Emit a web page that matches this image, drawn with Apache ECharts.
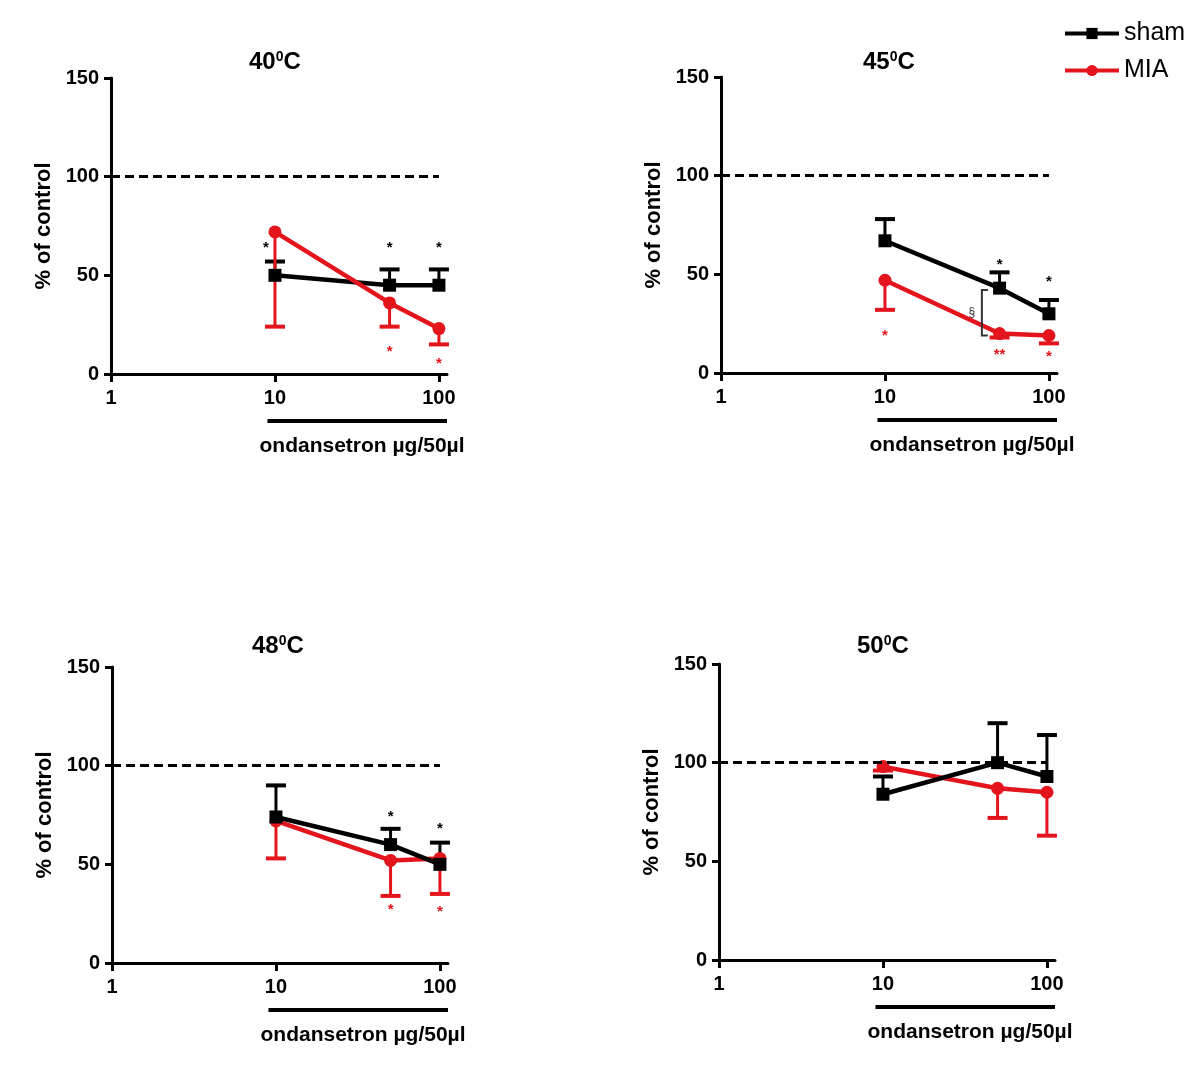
<!DOCTYPE html>
<html><head><meta charset="utf-8">
<script src="https://cdn.jsdelivr.net/npm/echarts@6/dist/echarts.min.js"></script>
<style>html,body{margin:0;padding:0;background:#fff}#c{width:1200px;height:1080px}</style>
</head><body><div id="c"></div>
<script>
// ---- data ----
const doses = [10, 50, 100];
const xTickValues = [1, 10, 100];
const temps = ['40', '45', '48', '50'];
const seriesNames = ['sham', 'MIA'];
const xAxisTitle = 'ondansetron µg/50µl';
const yAxisTitle = '% of control';
const controlLevel = 100;

const sham40 = [50, 45, 45];
const sham40Sem = [7, 8, 8];
const mia40 = [72, 36, 23];
const mia40Sem = [48, 12, 8];

const sham45 = [67, 43, 30];
const sham45Sem = [11, 8, 7];
const mia45 = [47, 20, 19];
const mia45Sem = [15, 2, 4];

const sham48 = [74, 60, 50];
const sham48Sem = [16, 8, 11];
const mia48 = [72, 52, 53];
const mia48Sem = [19, 18, 18];

const sham50 = [84, 100, 93];
const sham50Sem = [9, 20, 21];
const mia50 = [98, 87, 85];
const mia50Sem = [2, 15, 22];

// significance marks [dose, value, text]
const shamStars40 = [[8.8, 64, '*'], [50, 64, '*'], [100, 64, '*']];
const miaStars40 = [[50, 11, '*'], [100, 5, '*']];
const shamStars45 = [[50, 55, '*'], [100, 46, '*']];
const miaStars45 = [[10, 19, '*'], [50, 9, '**'], [100, 8, '*']];
const bracket45 = [[39, 19, 42, '§']];
const shamStars48 = [[50, 74, '*'], [100, 68, '*']];
const miaStars48 = [[50, 27, '*'], [100, 26, '*']];
const shamStars50 = [];
const miaStars50 = [];

// ---- layout / style ----
const BLACK = '#000000';
const RED = '#e3141c';
const FONT = '"Liberation Sans", Arial, sans-serif';
const gridPos = [
  {left: 111, top: 78}, {left: 721, top: 77},
  {left: 112, top: 667}, {left: 719, top: 664}
];
const GW = 336, GH = 296, XMAX = 112;
const titleCenters = [[272, 45], [886, 45], [275, 629], [880, 629]];

const panels = [
  {t: temps[0], sham: sham40, shamSem: sham40Sem, mia: mia40, miaSem: mia40Sem, ss: shamStars40, ms: miaStars40, br: [], redTop: true},
  {t: temps[1], sham: sham45, shamSem: sham45Sem, mia: mia45, miaSem: mia45Sem, ss: shamStars45, ms: miaStars45, br: bracket45, redTop: true},
  {t: temps[2], sham: sham48, shamSem: sham48Sem, mia: mia48, miaSem: mia48Sem, ss: shamStars48, ms: miaStars48, br: [], redTop: false},
  {t: temps[3], sham: sham50, shamSem: sham50Sem, mia: mia50, miaSem: mia50Sem, ss: shamStars50, ms: miaStars50, br: [], redTop: false}
];

function errRender(dir, color) {
  return function (params, api) {
    const x = api.value(0), m = api.value(1), s = api.value(2);
    const p0 = api.coord([x, m]);
    const p1 = api.coord([x, m + dir * s]);
    const hw = 10;
    return {type: 'group', children: [
      {type: 'line', shape: {x1: p0[0], y1: p0[1], x2: p1[0], y2: p1[1]}, style: {stroke: color, lineWidth: 3}},
      {type: 'line', shape: {x1: p1[0] - hw, y1: p1[1], x2: p1[0] + hw, y2: p1[1]}, style: {stroke: color, lineWidth: 4}}
    ]};
  };
}
function starRender(color) {
  return function (params, api) {
    const p = api.coord([api.value(0), api.value(1)]);
    const txt = params.context.texts[params.dataIndex];
    return {type: 'text', x: p[0], y: p[1], style: {text: txt, fill: color, fontSize: 15, fontWeight: 'bold', fontFamily: FONT, align: 'center', verticalAlign: 'middle'}};
  };
}

const option = {
  animation: false,
  backgroundColor: '#fff',
  title: [], grid: [], xAxis: [], yAxis: [], series: [],
  legend: {
    data: seriesNames, orient: 'vertical', left: 1063, top: 21, padding: 0,
    itemWidth: 54, itemHeight: 14, itemGap: 12,
    lineStyle: {width: 4},
    textStyle: {fontSize: 25, color: '#000', fontFamily: FONT}
  }
};

panels.forEach((p, i) => {
  const g = gridPos[i];
  option.grid.push({left: g.left, top: g.top, width: GW, height: GH, containLabel: false});
  option.title.push({
    text: p.t + '{s|0}C', left: titleCenters[i][0] - 28, top: titleCenters[i][1],
    textStyle: {fontSize: 24, fontWeight: 'bold', color: '#000', fontFamily: FONT,
      rich: {s: {fontSize: 14, fontWeight: 'bold', fontFamily: FONT, color: '#000', verticalAlign: 'top', padding: [0, 0, 10, 0]}}}
  });
  option.xAxis.push({
    gridIndex: i, type: 'log', logBase: 10, min: 1, max: XMAX,
    axisLine: {show: true, lineStyle: {color: BLACK, width: 3}},
    axisTick: {show: true, length: 8, lineStyle: {color: BLACK, width: 3}, customValues: xTickValues},
    minorTick: {show: false},
    splitLine: {show: false},
    axisLabel: {customValues: xTickValues, fontSize: 20, fontWeight: 'bold', color: '#000', fontFamily: FONT, margin: 14},
    name: xAxisTitle, nameLocation: 'middle', nameGap: 62,
    nameTextStyle: {fontSize: 21, fontWeight: 'bold', color: '#000', fontFamily: FONT, padding: [0, 0, 0, 166]}
  });
  option.yAxis.push({
    gridIndex: i, type: 'value', min: 0, max: 150, interval: 50,
    axisLine: {show: true, lineStyle: {color: BLACK, width: 3}},
    axisTick: {show: true, length: 7, lineStyle: {color: BLACK, width: 3}},
    splitLine: {show: false},
    axisLabel: {fontSize: 20, fontWeight: 'bold', color: '#000', fontFamily: FONT, margin: 12},
    name: yAxisTitle, nameLocation: 'middle', nameGap: 56,
    nameTextStyle: {fontSize: 22, fontWeight: 'bold', color: '#000', fontFamily: FONT}
  });
  const shamData = doses.map((d, k) => [d, p.sham[k]]);
  const miaData = doses.map((d, k) => [d, p.mia[k]]);
  // error bars
  option.series.push({type: 'custom', xAxisIndex: i, yAxisIndex: i, z: 2, silent: true,
    data: doses.map((d, k) => [d, p.sham[k], p.shamSem[k]]), encode: {x: 0, y: 1},
    renderItem: errRender(1, BLACK)});
  option.series.push({type: 'custom', xAxisIndex: i, yAxisIndex: i, z: 2, silent: true,
    data: doses.map((d, k) => [d, p.mia[k], p.miaSem[k]]), encode: {x: 0, y: 1},
    renderItem: errRender(-1, RED)});
  // lines
  option.series.push({
    name: seriesNames[0], type: 'line', xAxisIndex: i, yAxisIndex: i, data: shamData,
    z: p.redTop ? 3 : 4, symbol: 'rect', symbolSize: 13, itemStyle: {color: BLACK},
    lineStyle: {color: BLACK, width: 4.5},
    markLine: {silent: true, symbol: ['none', 'none'], label: {show: false},
      lineStyle: {color: BLACK, width: 3, type: [9, 5]},
      data: [[{coord: [xTickValues[0], controlLevel]}, {coord: [xTickValues[2], controlLevel]}]]}
  });
  option.series.push({
    name: seriesNames[1], type: 'line', xAxisIndex: i, yAxisIndex: i, data: miaData,
    z: p.redTop ? 4 : 3, symbol: 'circle', symbolSize: 13, itemStyle: {color: RED},
    lineStyle: {color: RED, width: 4.5}
  });
  // stars
  const sTexts = p.ss.map(s => s[2]);
  option.series.push({type: 'custom', xAxisIndex: i, yAxisIndex: i, z: 5, silent: true,
    data: p.ss.map(s => [s[0], s[1]]), encode: {x: 0, y: 1},
    renderItem: (params, api) => { params.context.texts = sTexts; return starRender(BLACK)(params, api); }});
  const mTexts = p.ms.map(s => s[2]);
  option.series.push({type: 'custom', xAxisIndex: i, yAxisIndex: i, z: 5, silent: true,
    data: p.ms.map(s => [s[0], s[1]]), encode: {x: 0, y: 1},
    renderItem: (params, api) => { params.context.texts = mTexts; return starRender(RED)(params, api); }});
  // bracket
  if (p.br.length) {
    option.series.push({type: 'custom', xAxisIndex: i, yAxisIndex: i, z: 5, silent: true,
      data: p.br.map(b => [b[0], b[1], b[2]]), encode: {x: 0, y: [1, 2]},
      renderItem: (params, api) => {
        const a = api.coord([api.value(0), api.value(1)]);
        const b = api.coord([api.value(0), api.value(2)]);
        const sym = p.br[params.dataIndex][3];
        return {type: 'group', children: [
          {type: 'polyline', shape: {points: [[a[0] + 6, a[1]], [a[0], a[1]], [b[0], b[1]], [b[0] + 6, b[1]]]}, style: {stroke: '#333', lineWidth: 2, fill: null}},
          {type: 'text', x: a[0] - 10, y: (a[1] + b[1]) / 2, style: {text: sym, fill: '#333', fontSize: 12, fontFamily: FONT, align: 'center', verticalAlign: 'middle'}}
        ]};
      }});
  }
  // dose range bar below x axis
  option.series.push({type: 'custom', xAxisIndex: i, yAxisIndex: i, z: 5, silent: true,
    data: [[9, 0, XMAX]], encode: {x: 0, y: 1},
    renderItem: (params, api) => {
      const a = api.coord([api.value(0), api.value(1)]);
      const b = api.coord([api.value(2), api.value(1)]);
      return {type: 'line', shape: {x1: a[0], y1: a[1] + 47, x2: b[0], y2: b[1] + 47}, style: {stroke: BLACK, lineWidth: 4}};
    }});
});

const chart = echarts.init(document.getElementById('c'), null, {renderer: 'canvas'});
chart.setOption(option);
</script>
</body></html>
